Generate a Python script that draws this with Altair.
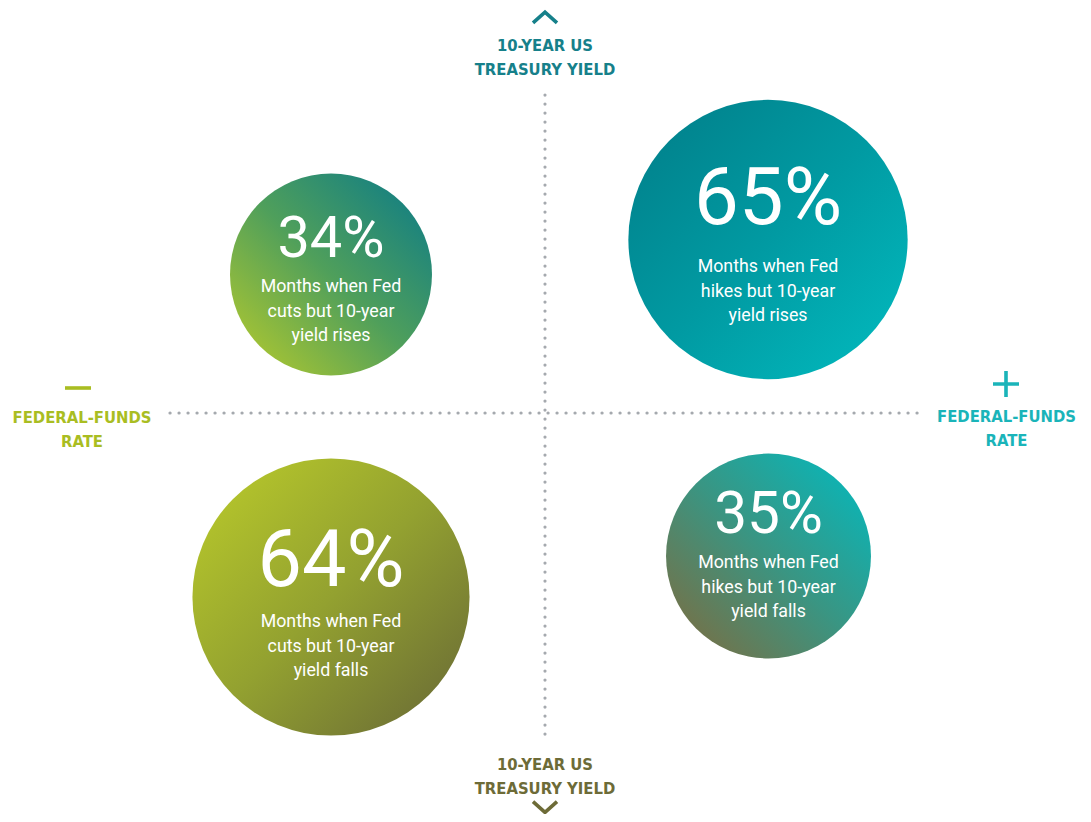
import altair as alt
import pandas as pd

# ---------------- data ----------------
percent_labels = ["34%", "65%", "64%", "35%"]
percent_values = [34, 65, 64, 35]
fed_moves = ["cuts", "hikes", "cuts", "hikes"]
yield_moves = ["rises", "rises", "falls", "falls"]
captions = [f"Months when Fed\n{f} but 10-year\nyield {y}" for f, y in zip(fed_moves, yield_moves)]

axis_titles = ["10-YEAR US\nTREASURY YIELD", "10-YEAR US\nTREASURY YIELD",
               "FEDERAL-FUNDS\nRATE", "FEDERAL-FUNDS\nRATE"]

# ---------------- layout (diagram units: 1 unit = 1 px, origin at the axes crossing) ----------------
circle_x = [-214, 223, -214, 223.5]
circle_y = [138.5, 173.5, -184, -143]
number_y = [156, 189, -173, -120]
caption_y = [121, 141, -214, -155]

title_x = [0, 0, -463, 461.5]
title_y = [362, -357, -10, -9]
title_colors = ["#16808a", "#6d6b37", "#a9bd22", "#1ab4b9"]

symbol_x = [0, 0, -467, 461]
symbol_y = [395.5, -394, 25, 29]
symbol_shapes = ["M-1,0.45L0,-0.45L1,0.45", "M-1,-0.45L0,0.45L1,-0.45", "M-1,0L1,0", "M-1,0L1,0M0,-1L0,1"]
symbol_sizes = [576, 576, 676, 676]

rule_x = [0, -375]
rule_x2 = [0, 380]
rule_y = [318, 0]
rule_y2 = [-322, 0]

gradients = {
    "34%": ("#bccd2a", "#4f9f5b", "#08798a", 0, 1, 1, 0),
    "65%": ("#017d88", "#019aa2", "#02bcc0", 0, 0, 1, 1),
    "64%": ("#bccd2a", "#93a130", "#666636", 0, 0, 1, 1),
    "35%": ("#83693a", "#3a9582", "#00bcc2", 0, 1, 1, 0),
}

df = pd.DataFrame({
    "label": percent_labels, "value": percent_values, "caption": captions,
    "cx": circle_x, "cy": circle_y, "ny": number_y, "sy": caption_y,
})
titles = pd.DataFrame({"t": axis_titles, "x": title_x, "y": title_y, "c": title_colors})
symbols = pd.DataFrame({"x": symbol_x, "y": symbol_y, "shape": symbol_shapes,
                        "size": symbol_sizes, "c": title_colors})
rules = pd.DataFrame({"x": rule_x, "x2": rule_x2, "y": rule_y, "y2": rule_y2})

xs = alt.Scale(domain=[-537, 538])
ys = alt.Scale(domain=[-401, 405])
X = lambda f: alt.X(f, scale=xs, axis=None)
Y = lambda f: alt.Y(f, scale=ys, axis=None)

base = alt.Chart(df)

rule_layer = alt.Chart(rules).mark_rule(
    color="#a5a9ae", strokeWidth=3.2, strokeCap="round", strokeDash=[0.1, 8.9]
).encode(x=X("x:Q"), x2="x2:Q", y=Y("y:Q"), y2="y2:Q")

circle_layers = []
for lab, (c0, c1, c2, x1, y1, x2, y2) in gradients.items():
    grad = {"gradient": "linear", "x1": x1, "y1": y1, "x2": x2, "y2": y2,
            "stops": [{"offset": 0, "color": c0}, {"offset": 0.5, "color": c1},
                      {"offset": 1, "color": c2}]}
    circle_layers.append(
        base.transform_filter(alt.datum.label == lab)
        .mark_circle(color=grad, opacity=1)
        .encode(x=X("cx:Q"), y=Y("cy:Q"),
                size=alt.Size("value:Q", scale=alt.Scale(domain=[0, 100], range=[0, 120000]), legend=None))
    )

txt_font = "Roboto, 'Liberation Sans', sans-serif"

number_layer = base.mark_text(
    align="center", baseline="alphabetic", color="white", font=txt_font, fontWeight=400
).encode(x=X("cx:Q"), y=Y("ny:Q"), text="label:N",
         size=alt.Size("value:Q", scale=alt.Scale(type="sqrt", domain=[0, 100], range=[0, 99]), legend=None))

caption_layer = base.mark_text(
    align="center", baseline="alphabetic", color="white", font=txt_font,
    fontSize=17.8, lineBreak="\n", lineHeight=24.5
).encode(x=X("cx:Q"), y=Y("sy:Q"), text="caption:N")

title_layer = alt.Chart(titles).mark_text(
    align="center", baseline="alphabetic", font="'DejaVu Sans Condensed', 'DejaVu Sans', sans-serif",
    fontWeight="bold", fontSize=16.5, lineBreak="\n", lineHeight=23.5
).encode(x=X("x:Q"), y=Y("y:Q"), text="t:N", color=alt.Color("c:N", scale=None))

symbol_layer = alt.Chart(symbols).mark_point(filled=False, strokeWidth=3.6, opacity=1).encode(
    x=X("x:Q"), y=Y("y:Q"),
    shape=alt.Shape("shape:N", scale=None),
    size=alt.Size("size:Q", scale=None),
    color=alt.Color("c:N", scale=None),
)

chart = alt.layer(rule_layer, *circle_layers, number_layer, caption_layer, title_layer, symbol_layer).resolve_scale(
    size="independent"
).properties(
    width=1075, height=806, padding=0, autosize="none", background="white"
).configure_view(strokeWidth=0)

chart.save("out.html", embed_options={"renderer": "svg", "actions": False})
